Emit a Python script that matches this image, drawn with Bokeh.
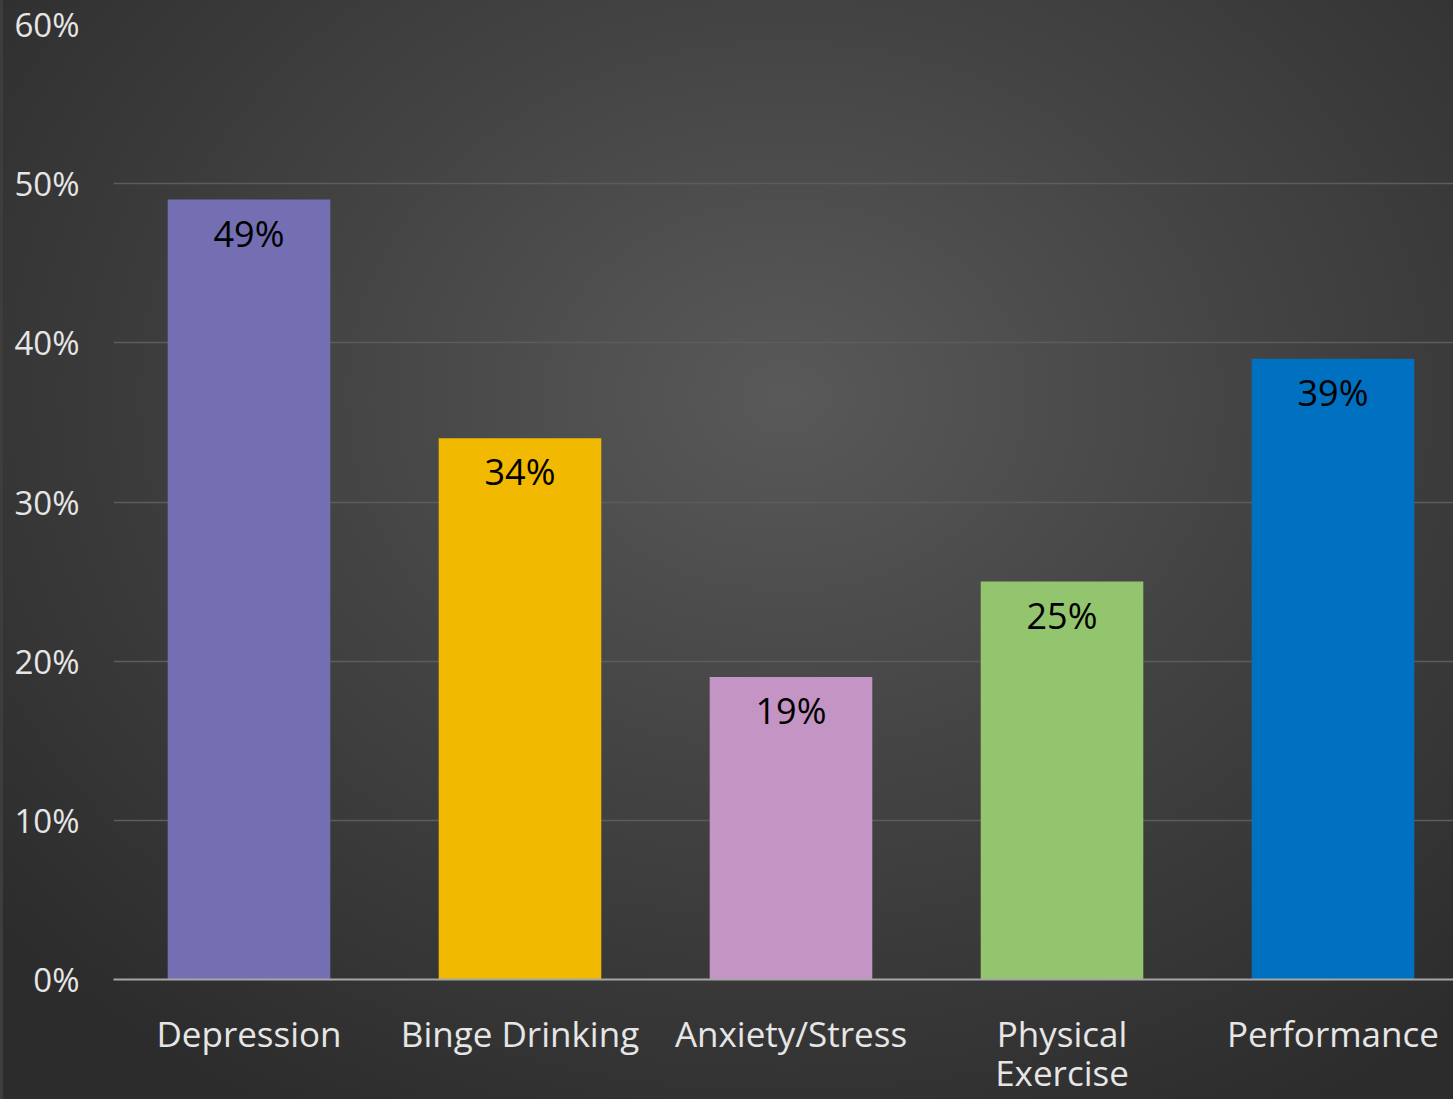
from bokeh.plotting import figure
from bokeh.models import ColumnDataSource, LabelSet, Range1d, FixedTicker, NumeralTickFormatter
from bokeh.core.properties import value
from bokeh.embed import file_html
from bokeh.resources import INLINE

categories = ["Depression", "Binge Drinking", "Anxiety/Stress", "Physical\nExercise", "Performance"]
values = [0.49, 0.34, 0.19, 0.25, 0.39]
labels = ["49%", "34%", "19%", "25%", "39%"]
colors = ["#736FB2", "#F1B900", "#C494C4", "#92C56E", "#0070C0"]
y_ticks = [0, 0.1, 0.2, 0.3, 0.4, 0.5, 0.6]

xs = list(range(len(categories)))
src = ColumnDataSource(dict(x=xs, top=values, color=colors, label=labels))

W, H = 1453, 1099
left, top, bottom = 113, 24, 120
frame_w = W - left
cat_px = 271.0

p = figure(width=W, height=H, output_backend="svg", toolbar_location=None,
           x_range=Range1d(-0.5, -0.5 + frame_w / cat_px), y_range=Range1d(0, 0.6),
           min_border_left=left, min_border_top=top, min_border_bottom=bottom, min_border_right=0)
p.background_fill_alpha = 0
p.border_fill_alpha = 0
p.outline_line_color = None
p.styles = {
    "background": "radial-gradient(ellipse 70% 75% at 54% 36%, #595959 0%, #444444 45%, #2c2c2c 100%)",
    "box-shadow": "inset 3px 0 0 #3d3d3d",
}

p.vbar(x="x", top="top", bottom=0, width=0.6, color="color", source=src, line_color=None)

p.add_layout(LabelSet(x="x", y="top", text="label", source=src, y_offset=-9,
                      text_align="center", text_baseline="top", text_color="#000000",
                      text_font=value("Open Sans"), text_font_size="36px"))

p.xgrid.grid_line_color = None
p.ygrid.grid_line_color = "#5c5c5c"
p.ygrid.grid_line_width = 1.5
p.yaxis.ticker = FixedTicker(ticks=y_ticks)
p.yaxis.formatter = NumeralTickFormatter(format="0%")
p.yaxis.axis_line_color = None
p.yaxis.major_tick_line_color = None
p.yaxis.minor_tick_line_color = None
p.yaxis.major_label_standoff = 28
p.yaxis.major_label_text_color = "#e6e6e6"
p.yaxis.major_label_text_font = "Open Sans"
p.yaxis.major_label_text_font_size = "33px"

p.xaxis.ticker = FixedTicker(ticks=xs)
p.xaxis.major_label_overrides = {i: c for i, c in enumerate(categories)}
p.xaxis.axis_line_color = "#a6a6a6"
p.xaxis.axis_line_width = 2
p.xaxis.major_tick_line_color = None
p.xaxis.minor_tick_line_color = None
p.xaxis.major_label_standoff = 24
p.xaxis.major_label_text_color = "#e6e6e6"
p.xaxis.major_label_text_font = "Open Sans"
p.xaxis.major_label_text_font_size = "35px"
p.xaxis.major_label_text_line_height = 0.85

open("out.html", "w").write(file_html(p, INLINE))
